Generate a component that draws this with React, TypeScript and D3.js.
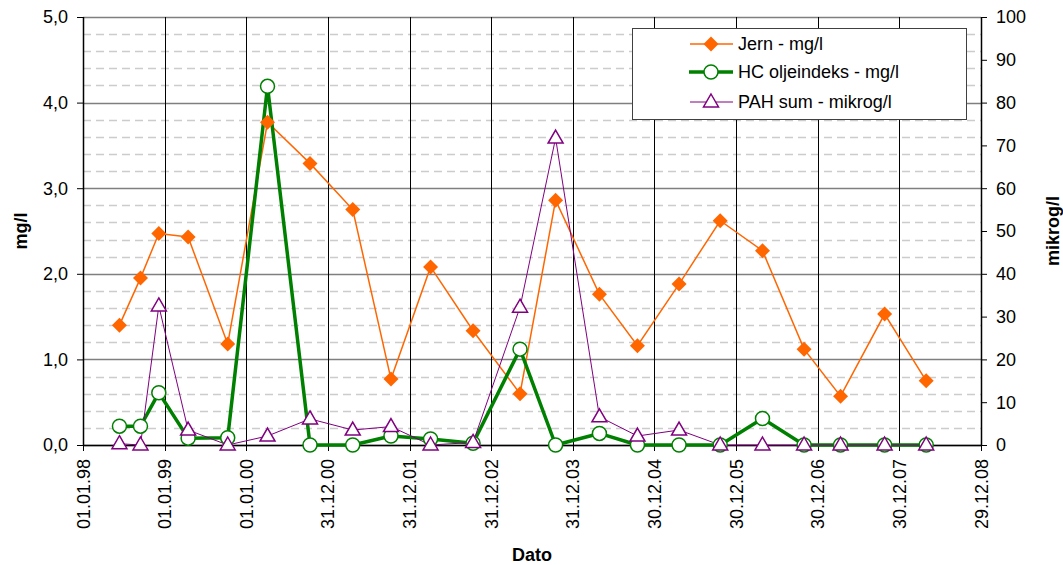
import React from "react";
import * as d3 from "d3";

const sampleDates = [
  "1998-06-13", "1998-09-15", "1998-12-06", "1999-04-16", "1999-10-10",
  "2000-04-05", "2000-10-12", "2001-04-21", "2001-10-09", "2002-04-04",
  "2002-10-11", "2003-05-09", "2003-10-15", "2004-04-28", "2004-10-15",
  "2005-04-19", "2005-10-20", "2006-04-27", "2006-10-30", "2007-04-11",
  "2007-10-25", "2008-04-28",
];
const jern = [1.4, 1.95, 2.47, 2.43, 1.18, 3.77, 3.29, 2.75, 0.77, 2.08, 1.335, 0.6, 2.86, 1.76, 1.16, 1.88, 2.62, 2.27, 1.12, 0.57, 1.53, 0.75];
const hc = [0.22, 0.22, 0.61, 0.08, 0.085, 4.19, 0.0, 0.0, 0.105, 0.07, 0.02, 1.12, 0.0, 0.135, 0.0, 0.0, 0.0, 0.31, 0.0, 0.0, 0.0, 0.0];
const pah = [0.3, 0.0, 32.5, 3.5, 0.0, 2.1, 6.1, 3.5, 4.3, 0.0, 0.6, 32.2, 71.7, 6.6, 2.1, 3.5, 0.0, 0.0, 0.0, 0.0, 0.0, 0.0];
const xTickLabels = ["01.01.98", "01.01.99", "01.01.00", "31.12.00", "31.12.01", "31.12.02", "31.12.03", "30.12.04", "30.12.05", "30.12.06", "30.12.07", "29.12.08"];
const leftTicks = [0, 1, 2, 3, 4, 5];
const rightTicks = [0, 10, 20, 30, 40, 50, 60, 70, 80, 90, 100];
const seriesNames = ["Jern - mg/l", "HC oljeindeks - mg/l", "PAH sum - mikrog/l"];

const FONT = "'Liberation Sans', Arial, sans-serif";

export default function App() {
  const W = 1063, H = 565;
  const left = 83, right = 981, top = 17, bottom = 445;
  const parse = d3.timeParse("%Y-%m-%d");
  const start = parse("1998-01-01")!;
  const tickDates = xTickLabels.map((_, i) => d3.timeDay.offset(start, i * 365));
  const x = d3.scaleTime().domain([tickDates[0], tickDates[tickDates.length - 1]]).range([left, right]);
  const yL = d3.scaleLinear().domain([0, 5]).range([bottom, top]);
  const yR = d3.scaleLinear().domain([0, 100]).range([bottom, top]);
  const dates = sampleDates.map((s) => parse(s)!);

  const minor = d3.range(0, 5.0001, 0.2).filter((v) => Math.abs(v - Math.round(v)) > 1e-6);

  const lineL = d3.line<number>().x((_, i) => x(dates[i])).y((v) => yL(v));
  const lineR = d3.line<number>().x((_, i) => x(dates[i])).y((v) => yR(v));

  const orange = "#FF6600", green = "#008000", purple = "#800080";
  const diamond = (cx: number, cy: number, s = 7.5) => `M${cx},${cy - s}L${cx + s},${cy}L${cx},${cy + s}L${cx - s},${cy}Z`;
  const tri = (cx: number, cy: number) => `M${cx},${cy - 8}L${cx + 7.5},${cy + 5}L${cx - 7.5},${cy + 5}Z`;

  const lx = 632, ly = 28, lw = 334, lh = 91;
  const rows = [44, 72, 102];

  return (
    <svg width={W} height={H} style={{ position: "absolute", left: 0, top: 0, fontFamily: FONT }}>
      <rect x={0} y={0} width={W} height={H} fill="#fff" />
      {minor.map((v) => (
        <line key={"m" + v} x1={left} x2={right} y1={Math.round(yL(v)) + 0.5} y2={Math.round(yL(v)) + 0.5} stroke="#cccccc" strokeWidth={1.3} strokeDasharray="8,5" />
      ))}
      {leftTicks.map((v) => (
        <line key={"M" + v} x1={left} x2={right} y1={Math.round(yL(v)) + 0.5} y2={Math.round(yL(v)) + 0.5} stroke="#7f7f7f" strokeWidth={1.5} />
      ))}
      {tickDates.map((d, i) => (
        <line key={"v" + i} x1={Math.round(x(d)) + 0.5} x2={Math.round(x(d)) + 0.5} y1={top} y2={bottom} stroke="#000" strokeWidth={1} />
      ))}
      <line x1={left + 0.5} x2={left + 0.5} y1={top} y2={bottom + 1} stroke="#000" strokeWidth={1.5} />
      <line x1={right + 0.5} x2={right + 0.5} y1={top} y2={bottom + 1} stroke="#000" strokeWidth={1.5} />
      <line x1={left} x2={right + 1} y1={bottom + 0.5} y2={bottom + 0.5} stroke="#000" strokeWidth={1.5} />
      {leftTicks.map((v) => (
        <g key={"lt" + v}>
          <line x1={left - 6} x2={left} y1={yL(v) + 0.5} y2={yL(v) + 0.5} stroke="#000" />
          <text x={68} y={yL(v)} dy="0.35em" textAnchor="end" fontSize={18} fill="#000">
            {d3.format(".1f")(v).replace(".", ",")}
          </text>
        </g>
      ))}
      {rightTicks.map((v) => (
        <g key={"rt" + v}>
          <line x1={right} x2={right + 6} y1={yR(v) + 0.5} y2={yR(v) + 0.5} stroke="#000" />
          <text x={996} y={yR(v)} dy="0.35em" textAnchor="start" fontSize={18} fill="#000">{v}</text>
        </g>
      ))}
      {tickDates.map((d, i) => (
        <g key={"xt" + i}>
          <line x1={Math.round(x(d)) + 0.5} x2={Math.round(x(d)) + 0.5} y1={bottom} y2={bottom + 6} stroke="#000" />
          <text transform={`translate(${x(d) + 6.5},${459}) rotate(-90)`} textAnchor="end" fontSize={18} fill="#000">
            {xTickLabels[i]}
          </text>
        </g>
      ))}
      <text x={(left + right) / 2} y={561} textAnchor="middle" fontSize={18} fontWeight="bold">Dato</text>
      <text transform={`translate(27,${(top + bottom) / 2}) rotate(-90)`} textAnchor="middle" fontSize={18} fontWeight="bold">mg/l</text>
      <text transform={`translate(1059,${(top + bottom) / 2}) rotate(-90)`} textAnchor="middle" fontSize={18} fontWeight="bold">mikrog/l</text>

      <path d={lineL(jern)!} fill="none" stroke={orange} strokeWidth={1.5} />
      <path d={lineL(hc)!} fill="none" stroke={green} strokeWidth={3.5} strokeLinejoin="round" />
      <path d={lineR(pah)!} fill="none" stroke={purple} strokeWidth={1} />
      {jern.map((v, i) => <path key={"j" + i} d={diamond(x(dates[i]), yL(v))} fill={orange} />)}
      {hc.map((v, i) => <circle key={"h" + i} cx={x(dates[i])} cy={yL(v)} r={7} fill="#fff" stroke={green} strokeWidth={1.5} />)}
      {pah.map((v, i) => <path key={"p" + i} d={tri(x(dates[i]), yR(v))} fill="#fff" stroke={purple} strokeWidth={1.5} />)}

      <rect x={lx + 0.5} y={ly + 0.5} width={lw} height={lh} fill="#fff" stroke="#404040" strokeWidth={1} />
      <line x1={690} x2={733} y1={rows[0]} y2={rows[0]} stroke={orange} strokeWidth={1.5} />
      <path d={diamond(711, rows[0])} fill={orange} />
      <line x1={689} x2={733} y1={rows[1]} y2={rows[1]} stroke={green} strokeWidth={3.5} />
      <circle cx={711} cy={rows[1]} r={7} fill="#fff" stroke={green} strokeWidth={1.5} />
      <line x1={690} x2={733} y1={rows[2]} y2={rows[2]} stroke={purple} strokeWidth={1} />
      <path d={tri(711, rows[2])} fill="#fff" stroke={purple} strokeWidth={1.5} />
      {seriesNames.map((n, i) => (
        <text key={n} x={738} y={rows[i]} dy="0.35em" fontSize={18} fill="#000">{n}</text>
      ))}
    </svg>
  );
}
